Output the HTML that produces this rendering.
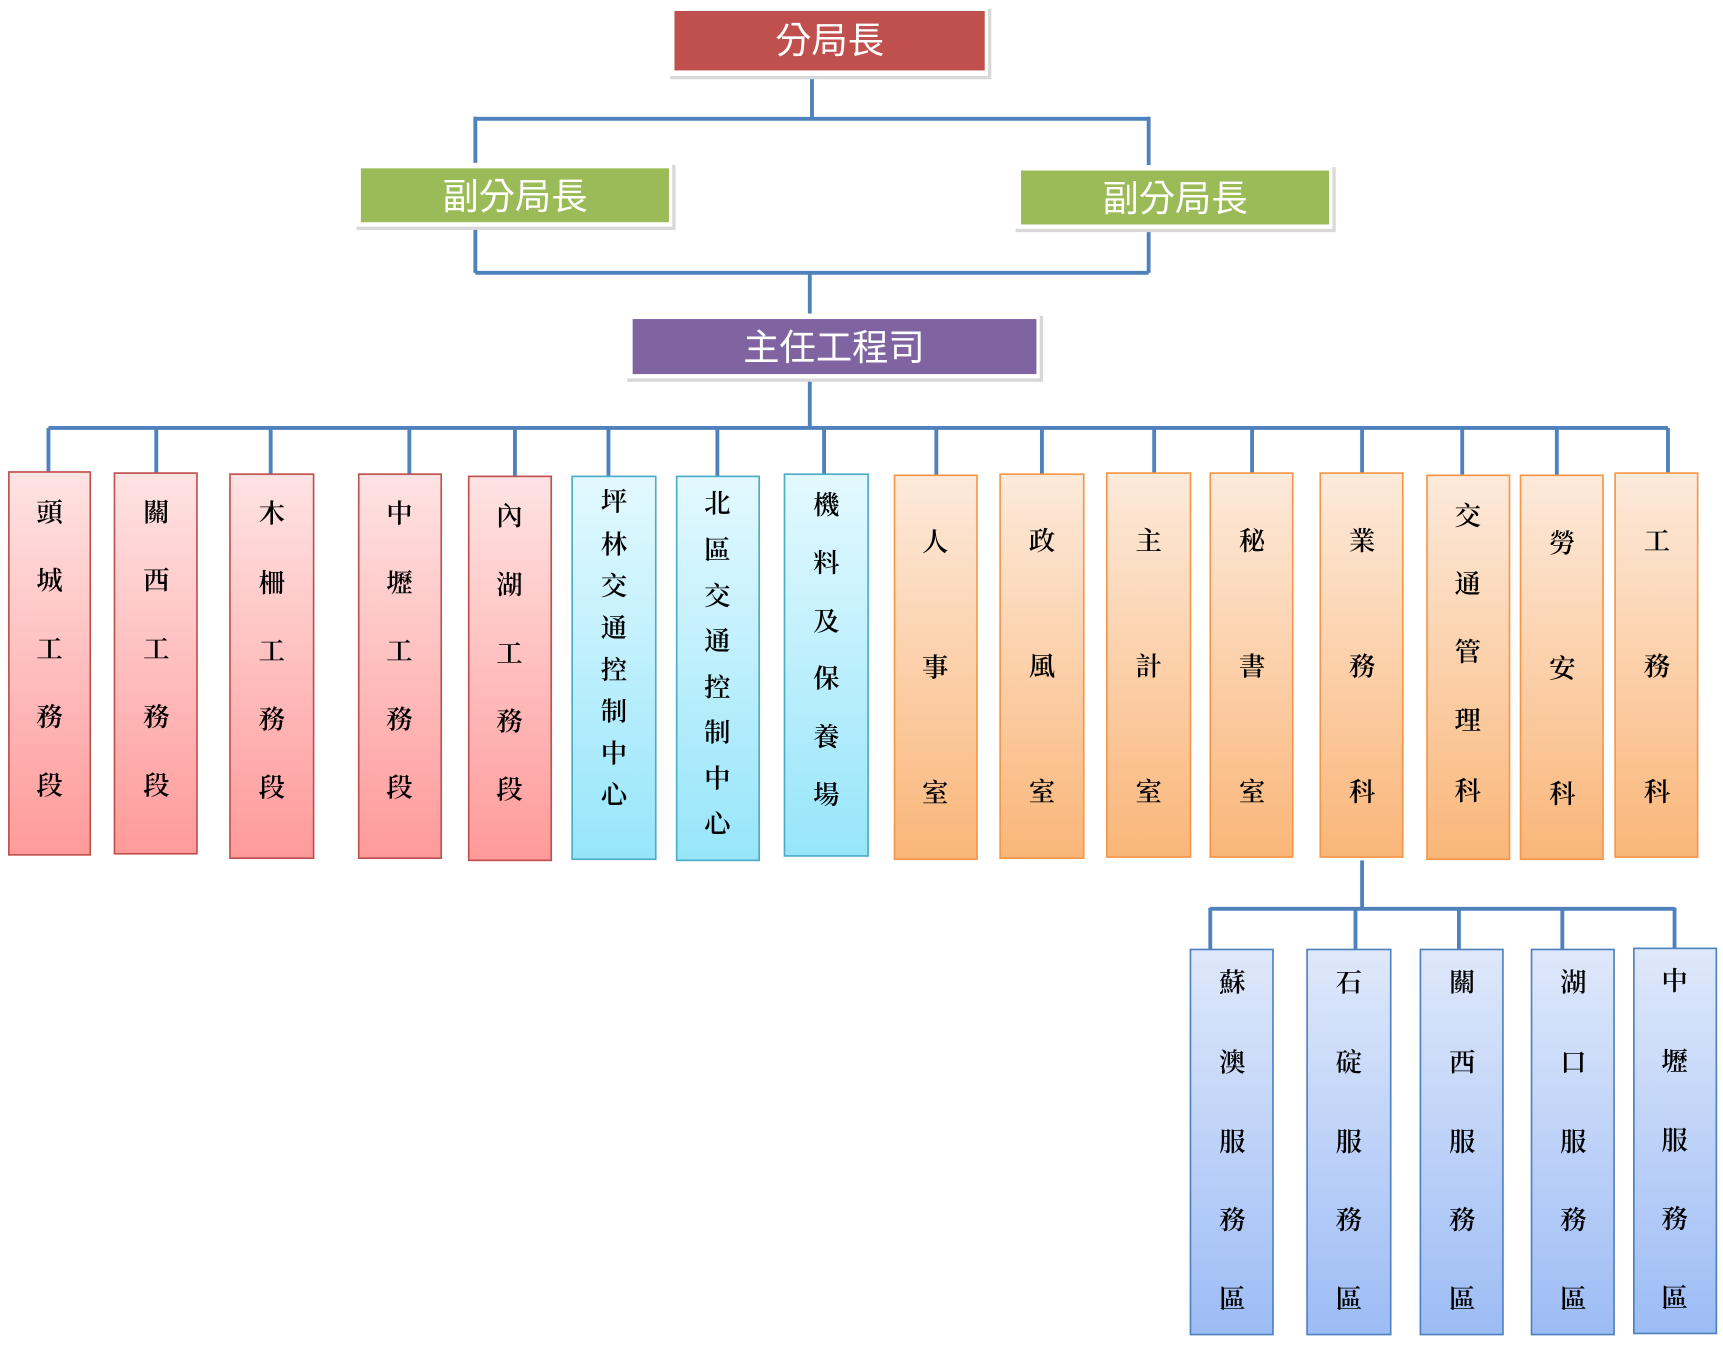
<!DOCTYPE html>
<html><head><meta charset="utf-8"><style>
html,body{margin:0;padding:0;background:#fff;}
svg{display:block;}
text{font-family:"Liberation Serif","Noto Serif CJK SC","Noto Sans CJK TC",serif;}
.h{font-family:"Liberation Sans","Noto Sans CJK TC",sans-serif;fill:#fff;font-size:33px;}
</style></head><body>
<svg width="1723" height="1345" viewBox="0 0 1566 1222.5" xmlns="http://www.w3.org/2000/svg">
<defs>
<linearGradient id="gr" x1="0" y1="0" x2="0" y2="1"><stop offset="0" stop-color="#ffe3e3"/><stop offset="1" stop-color="#ff9a9a"/></linearGradient>
<linearGradient id="gc" x1="0" y1="0" x2="0" y2="1"><stop offset="0" stop-color="#e3f9ff"/><stop offset="1" stop-color="#97e5fa"/></linearGradient>
<linearGradient id="go" x1="0" y1="0" x2="0" y2="1"><stop offset="0" stop-color="#fdeadb"/><stop offset="1" stop-color="#fab679"/></linearGradient>
<linearGradient id="gb" x1="0" y1="0" x2="0" y2="1"><stop offset="0" stop-color="#dfe8fb"/><stop offset="1" stop-color="#9cbcf5"/></linearGradient>
</defs>
<g stroke="#4f81bd" stroke-width="3.5" fill="none">
<path d="M738 66V108M432 108H1044M432 106V152M1044 106V154"/>
<path d="M432 205V248M1044 205V248M432 248H1044M736 248V290"/>
<path d="M736 345V390M44 389H1516"/>
<path d="M44 389V430M142 389V430M246 389V431M372 389V431M468 389V433M553 389V433M652 389V433M749 389V431M851 389V432M947 389V431M1049 389V430M1138 389V430M1238 389V430M1329 389V432M1415 389V432M1516 389V430"/>
<path d="M1238 782V826M1100 826H1522M1100 825V863M1232 825V863M1326 825V863M1420 825V863M1522 825V863"/>
</g>
<g fill="#d8d8d8">
<rect x="609" y="8" width="292" height="64"/><rect x="324" y="150" width="290" height="59"/><rect x="923" y="152" width="291" height="59"/><rect x="570" y="287" width="378" height="60"/>
</g>
<g fill="#fff"><rect x="608" y="6" width="290" height="63"/><rect x="323" y="148" width="288" height="58"/><rect x="922" y="150" width="289" height="58"/><rect x="569" y="285" width="376" height="59"/></g>
<rect x="613" y="10" width="282" height="54" fill="#c0504d"/>
<rect x="328" y="153" width="280" height="49" fill="#9bbb59"/>
<rect x="928" y="155" width="280" height="49" fill="#9bbb59"/>
<rect x="575" y="290" width="367" height="50" fill="#8064a2"/>
<text class="h" x="754" y="48" text-anchor="middle">分局長</text>
<text class="h" x="468" y="190" text-anchor="middle">副分局長</text>
<text class="h" x="1068" y="192" text-anchor="middle">副分局長</text>
<text class="h" x="758" y="327" text-anchor="middle">主任工程司</text>
<g stroke-width="1.5">
<rect x="8" y="429" width="74" height="348" fill="url(#gr)" stroke="#c0504d"/>
<rect x="104" y="430" width="75" height="346" fill="url(#gr)" stroke="#c0504d"/>
<rect x="209" y="431" width="76" height="349" fill="url(#gr)" stroke="#c0504d"/>
<rect x="326" y="431" width="75" height="349" fill="url(#gr)" stroke="#c0504d"/>
<rect x="426" y="433" width="75" height="349" fill="url(#gr)" stroke="#c0504d"/>
<rect x="520" y="433" width="76" height="348" fill="url(#gc)" stroke="#4bacc6"/>
<rect x="615" y="433" width="75" height="349" fill="url(#gc)" stroke="#4bacc6"/>
<rect x="713" y="431" width="76" height="347" fill="url(#gc)" stroke="#4bacc6"/>
<rect x="813" y="432" width="75" height="349" fill="url(#go)" stroke="#f79646"/>
<rect x="909" y="431" width="76" height="349" fill="url(#go)" stroke="#f79646"/>
<rect x="1006" y="430" width="76" height="349" fill="url(#go)" stroke="#f79646"/>
<rect x="1100" y="430" width="75" height="349" fill="url(#go)" stroke="#f79646"/>
<rect x="1200" y="430" width="75" height="349" fill="url(#go)" stroke="#f79646"/>
<rect x="1297" y="432" width="75" height="349" fill="url(#go)" stroke="#f79646"/>
<rect x="1382" y="432" width="75" height="349" fill="url(#go)" stroke="#f79646"/>
<rect x="1468" y="430" width="75" height="349" fill="url(#go)" stroke="#f79646"/>
<rect x="1082" y="863" width="75" height="350" fill="url(#gb)" stroke="#4f81bd"/>
<rect x="1188" y="863" width="76" height="350" fill="url(#gb)" stroke="#4f81bd"/>
<rect x="1291" y="863" width="75" height="350" fill="url(#gb)" stroke="#4f81bd"/>
<rect x="1392" y="863" width="75" height="350" fill="url(#gb)" stroke="#4f81bd"/>
<rect x="1485" y="862" width="75" height="350" fill="url(#gb)" stroke="#4f81bd"/>
</g>
<g font-size="24" fill="#000" font-weight="600" text-anchor="middle">
<text><tspan x="45" y="474">頭</tspan><tspan x="45" y="536">城</tspan><tspan x="45" y="598">工</tspan><tspan x="45" y="660">務</tspan><tspan x="45" y="722">段</tspan></text>
<text><tspan x="142" y="474">關</tspan><tspan x="142" y="536">西</tspan><tspan x="142" y="598">工</tspan><tspan x="142" y="660">務</tspan><tspan x="142" y="722">段</tspan></text>
<text><tspan x="247" y="475">木</tspan><tspan x="247" y="538">柵</tspan><tspan x="247" y="600">工</tspan><tspan x="247" y="662">務</tspan><tspan x="247" y="724">段</tspan></text>
<text><tspan x="363" y="475">中</tspan><tspan x="363" y="538">壢</tspan><tspan x="363" y="600">工</tspan><tspan x="363" y="662">務</tspan><tspan x="363" y="724">段</tspan></text>
<text><tspan x="463" y="477">內</tspan><tspan x="463" y="540">湖</tspan><tspan x="463" y="602">工</tspan><tspan x="463" y="664">務</tspan><tspan x="463" y="726">段</tspan></text>
<text><tspan x="558" y="464">坪</tspan><tspan x="558" y="503">林</tspan><tspan x="558" y="541">交</tspan><tspan x="558" y="579">通</tspan><tspan x="558" y="617">控</tspan><tspan x="558" y="655">制</tspan><tspan x="558" y="693">中</tspan><tspan x="558" y="731">心</tspan></text>
<text><tspan x="652" y="466">北</tspan><tspan x="652" y="508">區</tspan><tspan x="652" y="550">交</tspan><tspan x="652" y="591">通</tspan><tspan x="652" y="633">控</tspan><tspan x="652" y="674">制</tspan><tspan x="652" y="716">中</tspan><tspan x="652" y="757">心</tspan></text>
<text><tspan x="751" y="467">機</tspan><tspan x="751" y="520">料</tspan><tspan x="751" y="573">及</tspan><tspan x="751" y="625">保</tspan><tspan x="751" y="678">養</tspan><tspan x="751" y="731">場</tspan></text>
<text><tspan x="850" y="501">人</tspan><tspan x="850" y="615">事</tspan><tspan x="850" y="729">室</tspan></text>
<text><tspan x="947" y="500">政</tspan><tspan x="947" y="614">風</tspan><tspan x="947" y="728">室</tspan></text>
<text><tspan x="1044" y="500">主</tspan><tspan x="1044" y="614">計</tspan><tspan x="1044" y="728">室</tspan></text>
<text><tspan x="1138" y="500">秘</tspan><tspan x="1138" y="614">書</tspan><tspan x="1138" y="728">室</tspan></text>
<text><tspan x="1238" y="500">業</tspan><tspan x="1238" y="614">務</tspan><tspan x="1238" y="728">科</tspan></text>
<text><tspan x="1334" y="477">交</tspan><tspan x="1334" y="539">通</tspan><tspan x="1334" y="601">管</tspan><tspan x="1334" y="663">理</tspan><tspan x="1334" y="727">科</tspan></text>
<text><tspan x="1420" y="502">勞</tspan><tspan x="1420" y="616">安</tspan><tspan x="1420" y="730">科</tspan></text>
<text><tspan x="1506" y="500">工</tspan><tspan x="1506" y="614">務</tspan><tspan x="1506" y="728">科</tspan></text>
<text><tspan x="1120" y="901">蘇</tspan><tspan x="1120" y="974">澳</tspan><tspan x="1120" y="1046">服</tspan><tspan x="1120" y="1117">務</tspan><tspan x="1120" y="1189">區</tspan></text>
<text><tspan x="1226" y="901">石</tspan><tspan x="1226" y="974">碇</tspan><tspan x="1226" y="1046">服</tspan><tspan x="1226" y="1117">務</tspan><tspan x="1226" y="1189">區</tspan></text>
<text><tspan x="1329" y="901">關</tspan><tspan x="1329" y="974">西</tspan><tspan x="1329" y="1046">服</tspan><tspan x="1329" y="1117">務</tspan><tspan x="1329" y="1189">區</tspan></text>
<text><tspan x="1430" y="901">湖</tspan><tspan x="1430" y="974">口</tspan><tspan x="1430" y="1046">服</tspan><tspan x="1430" y="1117">務</tspan><tspan x="1430" y="1189">區</tspan></text>
<text><tspan x="1522" y="900">中</tspan><tspan x="1522" y="973">壢</tspan><tspan x="1522" y="1045">服</tspan><tspan x="1522" y="1116">務</tspan><tspan x="1522" y="1188">區</tspan></text>
</g>
</svg>
</body></html>
